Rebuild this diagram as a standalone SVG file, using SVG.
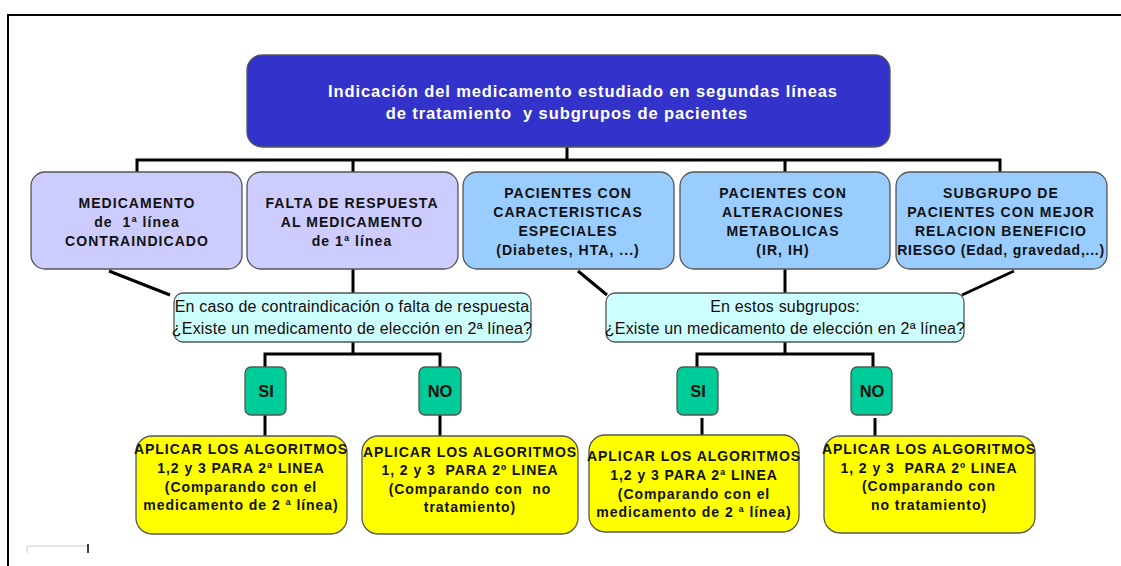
<svg xmlns="http://www.w3.org/2000/svg" width="1121" height="566" viewBox="0 0 1121 566">
<style>
text{font-family:"Liberation Sans",Arial,sans-serif;text-anchor:middle;fill:#111;white-space:pre}
.b{font-weight:bold;font-size:14px;letter-spacing:1.05px}
.t{font-weight:bold;font-size:16.5px;fill:#fff;letter-spacing:0.9px}
.d{font-size:16px;letter-spacing:0.2px;fill:#1a0a0a}
.y{font-weight:bold;font-size:14px;letter-spacing:0.95px}
.sn{font-weight:bold;font-size:16.5px}
.box{stroke:#555;stroke-width:1.3}
.conn{stroke:#000;stroke-width:3;fill:none}
</style>
<rect width="1121" height="566" fill="#fff"/>
<path d="M8 566V15H1121" stroke="#000" stroke-width="2" fill="none"/>
<g id="connectors" class="conn">
<path d="M567 147V160M137 172V160H1000V172M353 160V172M785 160V172"/>
<path d="M109 271L170 295M353 268V293M578 271L607 295M785 268V293M1014 271L962 295"/>
<path d="M353 342V354M265 367V354H440V367M785 342V354M697 367V354H873V367"/>
<path d="M265 415V436M440 415V436M702 418V435M875 418V436"/>
</g>
<g id="top">
<rect class="box" x="247" y="55" width="643" height="92" rx="15" fill="#3333CC"/>
<text class="t" x="583" y="97">Indicación del medicamento estudiado en segundas líneas</text>
<text class="t" x="567" y="119">de tratamiento  y subgrupos de pacientes</text>
</g>
<g id="n1">
<rect class="box" x="31" y="172" width="211" height="97" rx="14" fill="#CCCCFF"/>
<text class="b" x="137" y="208">MEDICAMENTO</text>
<text class="b" x="137" y="227">de  1ª línea</text>
<text class="b" x="137" y="246">CONTRAINDICADO</text>
</g>
<g id="n2">
<rect class="box" x="247" y="172" width="211" height="97" rx="14" fill="#CCCCFF"/>
<text class="b" x="352" y="208">FALTA DE RESPUESTA</text>
<text class="b" x="352" y="227">AL MEDICAMENTO</text>
<text class="b" x="352" y="246">de 1ª línea</text>
</g>
<g id="n3">
<rect class="box" x="463" y="172" width="211" height="97" rx="14" fill="#99CCFF"/>
<text class="b" x="568" y="198">PACIENTES CON</text>
<text class="b" x="568" y="217">CARACTERISTICAS</text>
<text class="b" x="568" y="236">ESPECIALES</text>
<text class="b" x="568" y="255">(Diabetes, HTA, ...)</text>
</g>
<g id="n4">
<rect class="box" x="680" y="172" width="210" height="97" rx="14" fill="#99CCFF"/>
<text class="b" x="783" y="198">PACIENTES CON</text>
<text class="b" x="783" y="217">ALTERACIONES</text>
<text class="b" x="783" y="236">METABOLICAS</text>
<text class="b" x="783" y="255">(IR, IH)</text>
</g>
<g id="n5">
<rect class="box" x="896" y="172" width="211" height="97" rx="14" fill="#99CCFF"/>
<text class="b" x="1001" y="198">SUBGRUPO DE</text>
<text class="b" x="1001" y="217">PACIENTES CON MEJOR</text>
<text class="b" x="1001" y="236">RELACION BENEFICIO</text>
<text class="b" x="1001" y="255" style="letter-spacing:0.75px">RIESGO (Edad, gravedad,...)</text>
</g>
<g id="q1">
<rect class="box" x="174" y="293" width="357" height="49" rx="9" fill="#CCFFFF"/>
<text class="d" x="352" y="312">En caso de contraindicación o falta de respuesta</text>
<text class="d" x="352" y="334">¿Existe un medicamento de elección en 2ª línea?</text>
</g>
<g id="q2">
<rect class="box" x="606" y="293" width="358" height="49" rx="9" fill="#CCFFFF"/>
<text class="d" x="785" y="312">En estos subgrupos:</text>
<text class="d" x="785" y="334">¿Existe un medicamento de elección en 2ª línea?</text>
</g>
<g id="si1">
<rect class="box" x="245" y="367" width="41" height="48" rx="6" fill="#00CC99"/>
<text class="sn" x="266" y="397">SI</text>
</g>
<g id="no1">
<rect class="box" x="419" y="367" width="42" height="48" rx="6" fill="#00CC99"/>
<text class="sn" x="440" y="397">NO</text>
</g>
<g id="si2">
<rect class="box" x="677" y="367" width="41" height="48" rx="6" fill="#00CC99"/>
<text class="sn" x="698" y="397">SI</text>
</g>
<g id="no2">
<rect class="box" x="851" y="367" width="41" height="48" rx="6" fill="#00CC99"/>
<text class="sn" x="872" y="397">NO</text>
</g>
<g id="r1">
<rect class="box" x="136" y="436" width="211" height="98" rx="16" fill="#FFFF00"/>
<text class="y" x="241" y="454">APLICAR LOS ALGORITMOS</text>
<text class="y" x="241" y="473">1,2 y 3 PARA 2ª LINEA</text>
<text class="y" x="241" y="492">(Comparando con el</text>
<text class="y" x="241" y="510">medicamento de 2 ª línea)</text>
</g>
<g id="r2">
<rect class="box" x="362" y="436" width="216" height="98" rx="16" fill="#FFFF00"/>
<text class="y" x="470" y="457">APLICAR LOS ALGORITMOS</text>
<text class="y" x="470" y="475">1, 2 y 3  PARA 2º LINEA</text>
<text class="y" x="470" y="494">(Comparando con  no</text>
<text class="y" x="470" y="512">tratamiento)</text>
</g>
<g id="r3">
<rect class="box" x="589" y="435" width="210" height="97" rx="16" fill="#FFFF00"/>
<text class="y" x="694" y="461">APLICAR LOS ALGORITMOS</text>
<text class="y" x="694" y="480">1,2 y 3 PARA 2ª LINEA</text>
<text class="y" x="694" y="499">(Comparando con el</text>
<text class="y" x="694" y="517">medicamento de 2 ª línea)</text>
</g>
<g id="r4">
<rect class="box" x="824" y="436" width="211" height="97" rx="16" fill="#FFFF00"/>
<text class="y" x="929" y="454">APLICAR LOS ALGORITMOS</text>
<text class="y" x="929" y="473">1, 2 y 3  PARA 2º LINEA</text>
<text class="y" x="929" y="491">(Comparando con</text>
<text class="y" x="929" y="510">no tratamiento)</text>
</g>
<g id="artifact">
<path d="M27 553V546H88" stroke="#ccc" stroke-width="1" fill="none"/>
<path d="M88 544V553" stroke="#000" stroke-width="1.5"/>
</g>
</svg>
